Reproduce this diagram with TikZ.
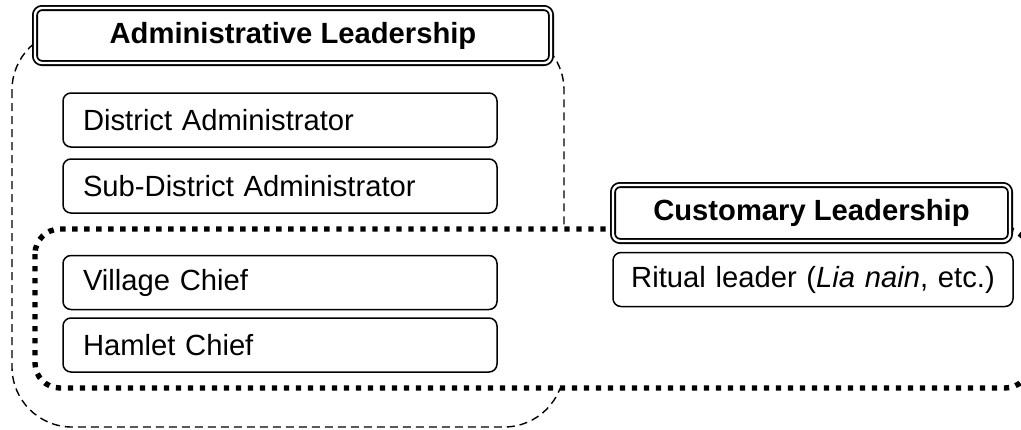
\documentclass[tikz,border=0pt]{standalone}
\usepackage{fontspec}
\setmainfont{Liberation Sans}
\usepackage{xcolor}
\usepackage{tikz}

\tikzset{
  headbox/.style={draw, double, double distance=1.2pt, line width=0.9pt,
    rounded corners=3.5pt, fill=white, inner sep=0pt,
    font=\fontsize{14.6}{17}\selectfont\bfseries},
  rolebox/.style={draw, line width=0.75pt, rounded corners=4pt, fill=white,
    inner xsep=10pt, inner ysep=0pt, minimum height=27pt,
    font=\fontsize{14.6}{17}\selectfont},
  adminzone/.style={draw, line width=0.7pt, dash pattern=on 4pt off 2.5pt,
    rounded corners=30pt},
  customzone/.style={draw, fill=white, line width=2.7pt,
    dash pattern=on 2.7pt off 3.3pt, rounded corners=12.5pt}
}

\begin{document}
\begin{tikzpicture}[x=0.5pt, y=-0.5pt]
        \useasboundingbox (0,0) rectangle (1021,429);
        \clip (0,0) rectangle (1021,429);
        % the two leadership areas
        \draw[adminzone] (12,30) rectangle (564,427);
        \draw[customzone] (35,229) rectangle (1030,388);
        % headings
        \node[headbox, minimum width=258pt, minimum height=27.5pt] (admhead) at (293,35.5)
            {Administrative Leadership};
        \node[headbox, minimum width=198.5pt, minimum height=28pt] (cushead) at (811.5,213)
            {Customary Leadership};
        % administrative roles
        \node[rolebox, text width=197pt, align=left] (district) at (280,120)
            {District Administrator};
        \node[rolebox, text width=197pt, align=left] (subdistrict) at (280,186)
            {Sub-District Administrator};
        \node[rolebox, text width=197pt, align=left] (village) at (280,282.5)
            {Village Chief};
        \node[rolebox, text width=197pt, align=left] (hamlet) at (280,345)
            {Hamlet Chief};
        % customary role
        \node[rolebox, inner xsep=2pt, text width=196pt, align=center] (ritual) at (813,279.5)
            {Ritual leader (\textit{Lia nain}, etc.)};
    \end{tikzpicture}
\end{document}
